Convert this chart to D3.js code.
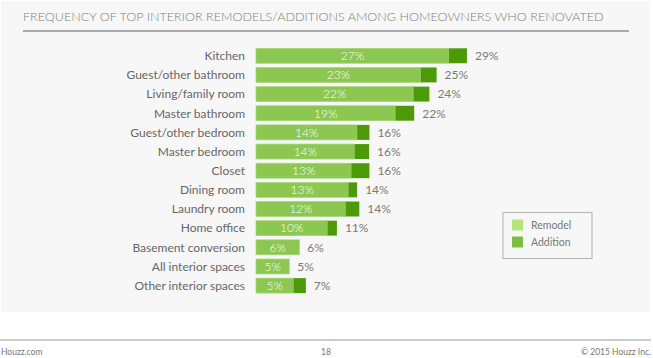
<!DOCTYPE html>
<html><head><meta charset="utf-8">
<script src="https://cdn.jsdelivr.net/npm/d3@7"></script>
<style>body{margin:0;background:#fff;}svg{display:block;font-family:Lato,"Open Sans",sans-serif;}</style>
</head><body><svg id="c" width="653" height="358"></svg>
<script>
const categories = ["Kitchen","Guest/other bathroom","Living/family room","Master bathroom","Guest/other bedroom","Master bedroom","Closet","Dining room","Laundry room","Home office","Basement conversion","All interior spaces","Other interior spaces"];
const remodel = [26.7,22.8,21.8,19.3,14.0,13.65,13.2,12.8,12.4,9.9,6.0,4.6,5.2];
const addition = [2.5,2.2,2.2,2.6,1.7,2.0,2.5,1.2,1.9,1.3,0,0,1.7];
const remodelLabels = ["27%","23%","22%","19%","14%","14%","13%","13%","12%","10%","6%","5%","5%"];
const totalLabels = ["29%","25%","24%","22%","16%","16%","16%","14%","14%","11%","6%","5%","7%"];
const seriesNames = ["Remodel","Addition"];

const svg = d3.select("#c");
svg.append("rect").attr("x",1).attr("y",1).attr("width",649).attr("height",311).attr("fill","#f7f7f7");

svg.append("text").attr("x",23).attr("y",21).attr("fill","#808080").attr("font-size",12.6).attr("font-weight",300)
  .text("FREQUENCY OF TOP INTERIOR REMODELS/ADDITIONS AMONG HOMEOWNERS WHO RENOVATED");
svg.append("line").attr("x1",23).attr("x2",629).attr("y1",31).attr("y2",31).attr("stroke","#aaa").attr("stroke-width",2);

const x = d3.scaleLinear().domain([0,29]).range([256,465.5]);
const y = d3.scaleBand().domain(categories).range([46.2,295.2]).paddingInner(0.22).paddingOuter(0.11);

const rows = svg.append("g").selectAll("g").data(categories).join("g");
rows.append("rect").attr("x",x(0)).attr("y",d=>y(d)).attr("height",y.bandwidth())
  .attr("width",(d,i)=>x(remodel[i])-x(0)).attr("fill","#8cc751").attr("stroke","#a4d675").attr("stroke-width",0.7);
rows.filter((d,i)=>addition[i]>0).append("rect").attr("x",d=>x(remodel[categories.indexOf(d)])).attr("y",d=>y(d)).attr("height",y.bandwidth())
  .attr("width",d=>{const i=categories.indexOf(d);return x(remodel[i]+addition[i])-x(remodel[i]);}).attr("fill","#4c9a08");
rows.append("text").attr("x",(d,i)=>(x(0)+x(remodel[i]))/2).attr("y",d=>y(d)+y.bandwidth()/2).attr("dy","0.36em")
  .attr("text-anchor","middle").attr("fill","#fff").attr("font-size",12).attr("font-weight",300).text((d,i)=>remodelLabels[i]);
rows.append("text").attr("x",(d,i)=>x(remodel[i]+addition[i])+8).attr("y",d=>y(d)+y.bandwidth()/2).attr("dy","0.36em")
  .attr("fill","#7a7a7a").attr("font-size",12).text((d,i)=>totalLabels[i]);
rows.append("text").attr("x",245).attr("y",d=>y(d)+y.bandwidth()/2).attr("dy","0.36em")
  .attr("text-anchor","end").attr("fill","#666").attr("font-size",12).text(d=>d);

const lg = svg.append("g");
lg.append("rect").attr("x",503).attr("y",212.5).attr("width",89).attr("height",46).attr("fill","#f7f7f7").attr("stroke","#bbb").attr("stroke-width",1.2);
const lc = ["#b3e57c","#7bbd45"];
seriesNames.forEach((s,i)=>{
  lg.append("rect").attr("x",512).attr("y",219.5+i*17).attr("width",11).attr("height",11).attr("fill",lc[i]);
  lg.append("text").attr("x",531).attr("y",225+i*17).attr("dy","0.36em").attr("fill","#777").attr("font-size",10.5).text(s);
});

svg.append("line").attr("x1",0).attr("x2",651).attr("y1",340).attr("y2",340).attr("stroke","#999").attr("stroke-width",1);
svg.append("text").attr("x",1).attr("y",355).attr("fill","#777").attr("font-size",8.5).text("Houzz.com");
svg.append("text").attr("x",326).attr("y",355).attr("text-anchor","middle").attr("fill","#777").attr("font-size",8.5).text("18");
svg.append("text").attr("x",651).attr("y",355).attr("text-anchor","end").attr("fill","#777").attr("font-size",8.5).text("© 2015 Houzz Inc.");
</script></body></html>
